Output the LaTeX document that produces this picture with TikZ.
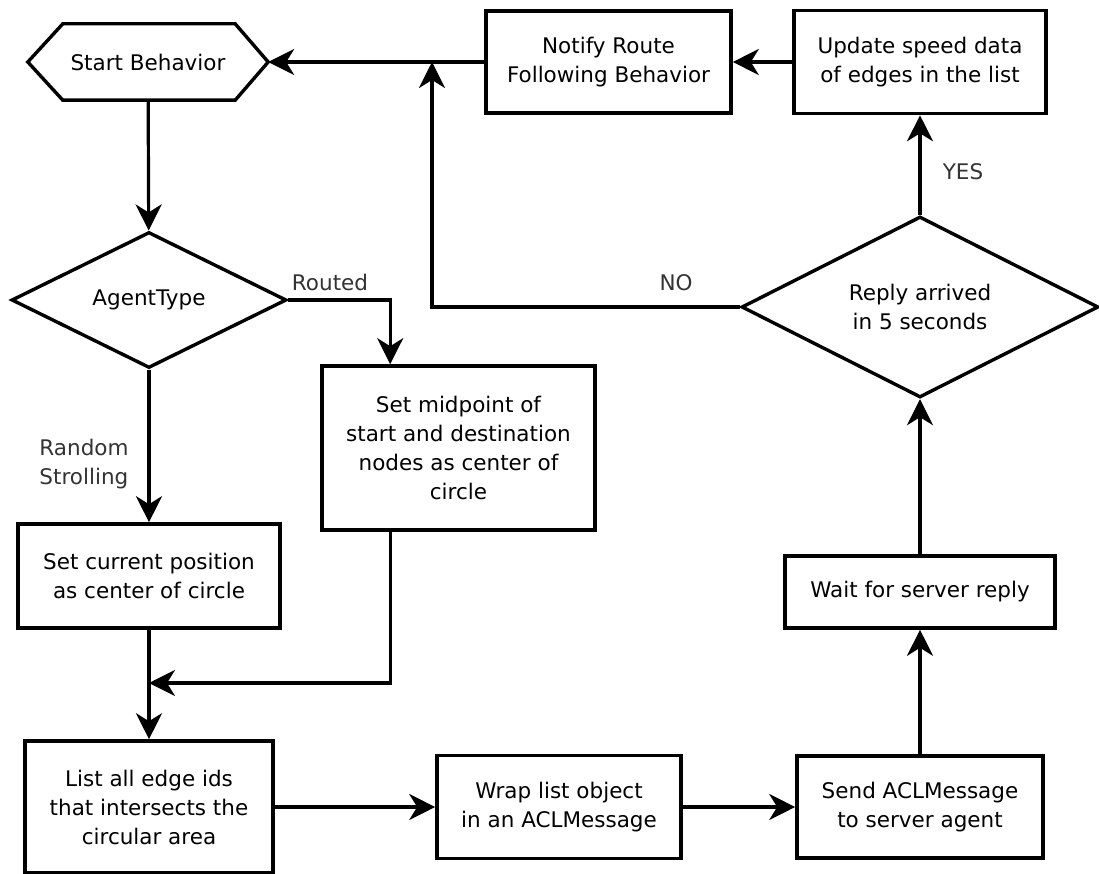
\documentclass[tikz,border=0pt]{standalone}
\usepackage{fontspec}
\setmainfont{DejaVu Sans}
\usetikzlibrary{arrows.meta,shapes.geometric,calc}
\begin{document}
\begin{tikzpicture}[x=1pt,y=-1pt,
  every node/.style={font=\fontsize{21.5}{29}\selectfont, text=black},
  box/.style={draw, line width=3.6pt, rectangle, align=center, inner sep=0pt},
  decision/.style={draw, line width=3.4pt, diamond, align=center, inner sep=0pt, aspect=2},
  flow/.style={line width=3.2pt, -{Stealth[length=26pt,width=26pt,inset=8pt]}},
  lbl/.style={text=black!80}
]
\useasboundingbox (0,0) rectangle (1099,874);

% start terminal (hexagon drawn around an invisible node)
\node[inner sep=0pt, minimum width=240pt, minimum height=76pt] (start) at (148,62) {Start Behavior};
\draw[line width=3.4pt, line join=miter]
  (start.west) -- ([xshift=35pt]start.north west) -- ([xshift=-33pt]start.north east)
  -- (start.east) -- ([xshift=-33pt]start.south east) -- ([xshift=35pt]start.south west) -- cycle;

% process boxes and decisions
\node[box, minimum width=245pt, minimum height=102pt] (notify) at (608.5,62) {Notify Route\\Following Behavior};
\node[box, minimum width=252pt, minimum height=103pt] (update) at (920,62) {Update speed data\\of edges in the list};
\node[decision, minimum width=275pt, minimum height=136pt] (agent) at (149,300) {AgentType};
\node[decision, minimum width=357pt, minimum height=181pt] (reply) at (920,307) {Reply arrived\\in 5 seconds};
\node[box, minimum width=273pt, minimum height=164pt] (mid) at (458.5,448) {Set midpoint of\\start and destination\\nodes as center of\\circle};
\node[box, minimum width=262pt, minimum height=104pt] (cur) at (149,576) {Set current position\\as center of circle};
\node[box, minimum width=270pt, minimum height=72pt] (wait) at (920,592) {Wait for server reply};
\node[box, minimum width=248pt, minimum height=132pt] (list) at (149,807) {List all edge ids\\that intersects the\\circular area};
\node[box, minimum width=244pt, minimum height=103pt] (wrap) at (559,807) {Wrap list object\\in an ACLMessage};
\node[box, minimum width=246pt, minimum height=102pt] (send) at (920,807) {Send ACLMessage\\to server agent};

% helper points
\coordinate (merge) at (149,683);
\coordinate (noup) at (432,62);

% connectors
\draw[flow] (start) -- (agent);
\draw[flow] (agent.east) -| ([xshift=70pt]mid.north west);
\draw[flow] (agent) -- (cur);
\draw[flow] (cur) -- (list);
\draw[flow] ([xshift=70pt]mid.south west) |- (merge);
\draw[flow] (list) -- (wrap);
\draw[flow] (wrap) -- (send);
\draw[flow] (send) -- (wait);
\draw[flow] (wait) -- (reply);
\draw[flow] (reply) -- (update);
\draw[flow] (update) -- (notify);
\draw[flow] (notify) -- (start);
\draw[flow] (reply.west) -| (noup);

% branch labels
\node[lbl] (routed) at (330,282) {Routed};
\node[lbl, align=left] (rs) at (84,464) {Random\\Strolling};
\node[lbl] (yes) at (963,172) {YES};
\node[lbl] (no) at (676,283) {NO};
\end{tikzpicture}
\end{document}
